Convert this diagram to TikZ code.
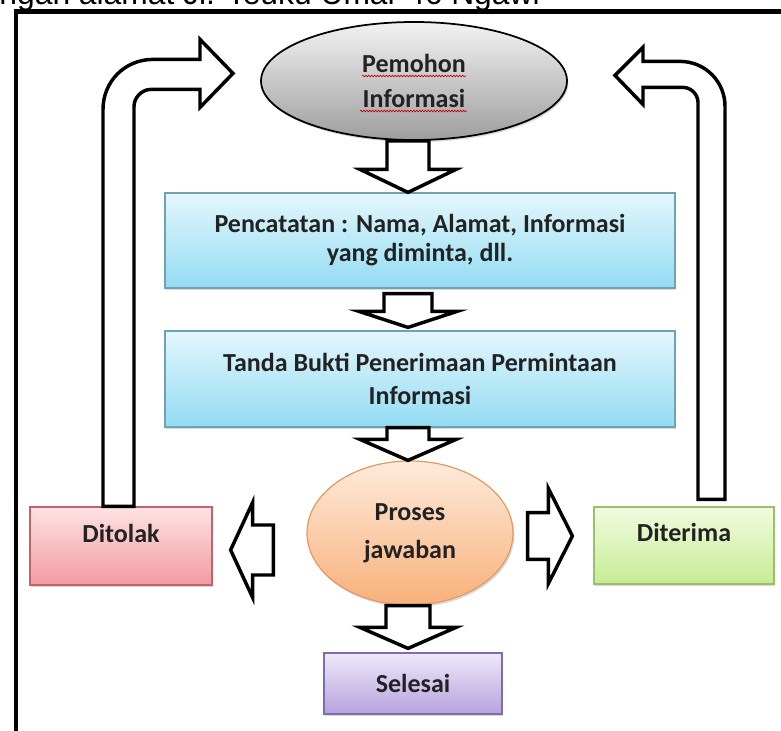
\documentclass[tikz,border=0pt]{standalone}
\usepackage{fontspec}
\setmainfont{Carlito}
\newfontfamily\judulfont{Liberation Sans}
\usetikzlibrary{calc,shapes.geometric,shadows,decorations.pathmorphing}

\definecolor{teks}{HTML}{222222}
\definecolor{birumuda}{HTML}{E4F6FC}
\definecolor{birutua}{HTML}{93DCF3}
\definecolor{garisbiru}{HTML}{6FA3B3}
\definecolor{merahmuda}{HTML}{FDE3E4}
\definecolor{merahtua}{HTML}{F29AA0}
\definecolor{garismerah}{HTML}{C0646A}
\definecolor{hijaumuda}{HTML}{F2FBDF}
\definecolor{hijautua}{HTML}{C6EC94}
\definecolor{garishijau}{HTML}{9BBF6A}
\definecolor{ungumuda}{HTML}{EFE8F9}
\definecolor{ungutua}{HTML}{B5A3DD}
\definecolor{garisungu}{HTML}{7E6DAA}
\definecolor{oranyemuda}{HTML}{FEEBDC}
\definecolor{oranyetua}{HTML}{F8B07A}
\definecolor{garisoranye}{HTML}{E39A62}

\tikzset{
  panah/.style={draw=black, line width=2.6pt, fill=white, line join=miter},
  spasi/.style={font=\bfseries\fontsize{19.5}{#1}\selectfont},
  bayang/.style={drop shadow={shadow xshift=1pt, shadow yshift=-1.6pt, opacity=0.3}},
  kotak/.style={rectangle, line width=0.9pt, align=center, inner sep=0pt,
    text=teks, spasi=23, bayang},
  kotakbiru/.style={kotak, draw=garisbiru, top color=birumuda, bottom color=birutua},
  kotakmerah/.style={kotak, draw=garismerah, top color=merahmuda, bottom color=merahtua},
  kotakhijau/.style={kotak, draw=garishijau, top color=hijaumuda, bottom color=hijautua},
  kotakungu/.style={kotak, draw=garisungu, top color=ungumuda, bottom color=ungutua},
  salah/.style={draw=red!80!black, line width=0.5pt, decorate,
    decoration={snake, amplitude=0.6pt, segment length=2.2pt}},
}

% panah blok: pangkal, ujung, setengah batang, setengah kepala, panjang kepala
\newcommand{\blokpanah}[5]{%
  \draw[panah] let \p1=(#1), \p2=(#2),
      \n1={veclen(\x2-\x1,\y2-\y1)}, \n2={(\x2-\x1)/\n1}, \n3={(\y2-\y1)/\n1},
      \p3=({\x2-(\n2)*#5},{\y2-(\n3)*#5})
    in ({\x1-(\n3)*#3},{\y1+(\n2)*#3}) -- ({\x3-(\n3)*#3},{\y3+(\n2)*#3})
    -- ({\x3-(\n3)*#4},{\y3+(\n2)*#4}) -- (\p2)
    -- ({\x3+(\n3)*#4},{\y3-(\n2)*#4}) -- ({\x3+(\n3)*#3},{\y3-(\n2)*#3})
    -- ({\x1+(\n3)*#3},{\y1-(\n2)*#3}) -- cycle;
}

\begin{document}
\begin{tikzpicture}[x=0.75pt, y=-0.75pt]
  \useasboundingbox (0,0) rectangle (781,731);
  \clip (0,0) rectangle (781,731);

  % baris teks yang terpotong di atas
  \node[anchor=base east, inner sep=0pt, font=\judulfont\fontsize{23.85}{28}\selectfont]
    (judul) at (540,5) {ngan alamat Jl. Teuku Umar 46 Ngawi};
  \draw[line width=3.4pt] (781,11.5) -- (16,11.5) -- (16,731);

  % simpul
  \node[ellipse, draw=black, line width=1.3pt, top color=black!5, bottom color=black!38,
    minimum width=229.5pt, minimum height=88.5pt, inner sep=0pt, align=center,
    text=teks, spasi=26.25, bayang] (pemohon) at (414,81) {Pemohon\\Informasi};
  \node[kotakbiru, minimum width=382.5pt, minimum height=71.25pt, spasi=21.75]
    (catat) at (420,240.5) {Pencatatan : Nama, Alamat, Informasi\\yang diminta, dll.};
  \node[kotakbiru, minimum width=382.5pt, minimum height=72pt, spasi=24.75]
    (bukti) at (420,379) {Tanda Bukti Penerimaan Permintaan\\Informasi};
  \node[ellipse, draw=garisoranye, line width=0.9pt, top color=oranyemuda,
    bottom color=oranyetua, minimum width=154.5pt, minimum height=108pt,
    inner sep=0pt, align=center, text=teks, spasi=28.5, bayang]
    (proses) at (410,533) {Proses\\jawaban};
  \node[kotakmerah, minimum width=136.5pt, minimum height=58.5pt,
    text height=14pt, text depth=19pt] (ditolak) at (121,546) {Ditolak};
  \node[kotakhijau, minimum width=135pt, minimum height=57.75pt,
    text height=14pt, text depth=20pt] (diterima) at (684,545.5) {Diterima};
  \node[kotakungu, minimum width=133.5pt, minimum height=45.75pt]
    (selesai) at (413,683.5) {Selesai};
  \coordinate (sumbu) at (408,0);

  % garis merah di bawah kata
  \draw[salah] ($(pemohon.center)+(-52,-5)$) -- ++(104,0);
  \draw[salah] ($(pemohon.center)+(-54,30)$) -- ++(107,0);

  % panah lurus
  \blokpanah{sumbu |- pemohon.south}{sumbu |- catat.north}{15.75pt}{36pt}{17.25pt}
  \blokpanah{$(sumbu |- catat.south)+(0,5)$}{$(sumbu |- bukti.north)+(0,-3)$}{18pt}{36.75pt}{12pt}
  \blokpanah{sumbu |- bukti.south}{sumbu |- proses.north}{15.75pt}{36pt}{15.75pt}
  \blokpanah{sumbu |- proses.south}{$(sumbu |- selesai.north)+(0,-4)$}{16.5pt}{36pt}{15.75pt}
  \blokpanah{$(proses.west)+(-33,17)$}{$(ditolak.east)+(18,4)$}{18.75pt}{35.6pt}{16.5pt}
  \blokpanah{$(proses.east)+(14,3)$}{$(diterima.west)+(-21,-9.5)$}{17.6pt}{35.6pt}{18pt}

  % panah balik ke pemohon
  \draw[panah] ($(ditolak.north)+(-18,0)$) -- ++(0,-397)
    .. controls +(0,-28) and +(-28,0) .. ++(50,-50)
    -- ++(47,0) -- ++(0,-20) -- ++(33,34) -- ++(-33,34) -- ++(0,-18) -- ++(-49,0)
    .. controls +(-9,0) and +(0,-9) .. ++(-17,17)
    -- ++(0,400) -- cycle;
  \draw[panah] ($(diterima.north)+(41,-7)$) -- ++(0,-393)
    .. controls +(0,-25) and +(25,0) .. ++(-45,-45)
    -- ++(-37,0) -- ++(0,-14) -- ++(-28,28) -- ++(28,29) -- ++(0,-17) -- ++(40,0)
    .. controls +(8,0) and +(0,-8) .. ++(15,15)
    -- ++(0,397) -- cycle;
\end{tikzpicture}
\end{document}
